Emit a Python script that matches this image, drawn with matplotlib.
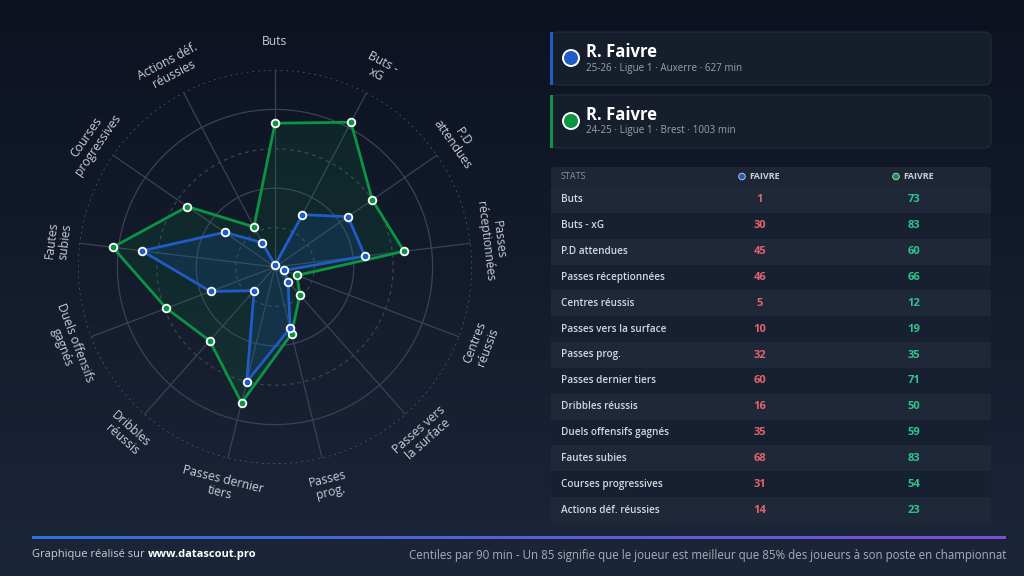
import numpy as np
import matplotlib
matplotlib.use("Agg")
import matplotlib.pyplot as plt
from matplotlib.patches import FancyBboxPatch, Circle, Rectangle
from matplotlib.colors import LinearSegmentedColormap

plt.rcParams['font.family'] = ['Open Sans', 'DejaVu Sans']

categories = ["Buts", "Buts - xG", "P.D attendues", "Passes réceptionnées",
              "Centres réussis", "Passes vers la surface", "Passes prog.",
              "Passes dernier tiers", "Dribbles réussis", "Duels offensifs gagnés",
              "Fautes subies", "Courses progressives", "Actions déf. réussies"]
radar_labels = ["Buts", "Buts -\nxG", "P.D\nattendues", "Passes\nréceptionnées",
                "Centres\nréussis", "Passes vers\nla surface", "Passes\nprog.",
                "Passes dernier\ntiers", "Dribbles\nréussis", "Duels offensifs\ngagnés",
                "Fautes\nsubies", "Courses\nprogressives", "Actions déf.\nréussies"]
blue_vals = [1, 30, 45, 46, 5, 10, 32, 60, 16, 35, 68, 31, 14]
green_vals = [73, 83, 60, 66, 12, 19, 35, 71, 50, 59, 83, 54, 23]

players = [("R. Faivre", "25-26 · Ligue 1 · Auxerre · 627 min"),
           ("R. Faivre", "24-25 · Ligue 1 · Brest · 1003 min")]
col_names = ["FAIVRE", "FAIVRE"]

BLUE = "#1f5cc6"
GREEN = "#0a9443"
RED_TXT = "#e5636d"
GREEN_TXT = "#2fc48e"
GRID = "#3a4355"

fig = plt.figure(figsize=(10.24, 5.76), dpi=100)

# fond en dégradé
bg = fig.add_axes([0, 0, 1, 1])
grad = np.linspace(0, 1, 256).reshape(-1, 1)
bgcmap = LinearSegmentedColormap.from_list("bg", ["#0c1220", "#1c2639"])
bg.imshow(grad, aspect='auto', cmap=bgcmap, extent=[0, 1, 0, 1], origin='upper')
bg.axis('off')

# radar
R = 197
cx, cy = 275, 267
ax = fig.add_axes([(cx - R) / 1024, (576 - cy - R) / 576, 2 * R / 1024, 2 * R / 576],
                  projection='polar')
ax.patch.set_alpha(0)
ax.set_theta_zero_location('N')
ax.set_theta_direction(-1)
ax.set_ylim(0, 100)
ax.set_xticks([])
ax.set_yticks([])
ax.grid(False)
ax.spines['polar'].set_visible(False)

n = len(categories)
theta = np.arange(n) * 2 * np.pi / n
circ = np.linspace(0, 2 * np.pi, 300)
for r, ls, col in [(20, (0, (3, 3)), GRID), (40, '-', GRID), (60, (0, (3, 3)), GRID),
                   (80, '-', GRID), (100, (0, (1.5, 3)), "#5b6476")]:
    ax.plot(circ, np.full_like(circ, r), color=col, lw=0.9, ls=ls, zorder=1)
for th in theta:
    ax.plot([th, th], [0, 100], color=GRID, lw=0.9, zorder=1)

for vals, col, fa in [(green_vals, GREEN, 0.13), (blue_vals, BLUE, 0.16)]:
    t = np.append(theta, theta[0])
    v = np.append(vals, vals[0])
    ax.fill(t, v, color=col, alpha=fa, zorder=2)
    ax.plot(t, v, color=col, lw=2, zorder=3)
    ax.plot(theta, vals, 'o', ms=5.5, mfc=col, mec='white', mew=1.3, zorder=4)

for th, lab in zip(theta, radar_labels):
    deg = np.degrees(th)
    rot = -deg if (deg <= 90 or deg >= 270) else 180 - deg
    lr = 110.5 + 4 * abs(np.cos(th))
    ax.text(th, lr, lab, rotation=rot, ha='center', va='center', rotation_mode='anchor',
            color="#c9cdd6", fontsize=8.7, linespacing=1.05, clip_on=False)

# panneau de droite
ov = fig.add_axes([0, 0, 1, 1])
ov.patch.set_alpha(0)
ov.set_xlim(0, 1024)
ov.set_ylim(576, 0)
ov.axis('off')

for i, ((name, sub), col) in enumerate(zip(players, [BLUE, GREEN])):
    y0 = 32 + i * 63
    ov.add_patch(FancyBboxPatch((551, y0), 440, 53, boxstyle="round,pad=0,rounding_size=7",
                                fc="#161d2b", ec="#252d3c", lw=0.8))
    ov.add_patch(Rectangle((550, y0), 3, 53, fc=col, ec='none'))
    ov.add_patch(Circle((571, y0 + 26), 8, fc=col, ec='white', lw=1.4))
    ov.text(586, y0 + 20, name, color='white', fontsize=12, fontweight='bold', va='center')
    ov.text(586, y0 + 36, sub, color="#9aa1ad", fontsize=7.1, va='center')

# tableau
tx0, tx1 = 551, 991
ov.add_patch(FancyBboxPatch((tx0, 167), tx1 - tx0, 20, boxstyle="round,pad=0,rounding_size=4",
                            fc="#1e2636", ec='none'))
ov.text(561, 176.5, "STATS", color="#8a919d", fontsize=6.5, va='center')
for x, cname, col in [(760, col_names[0], BLUE), (914, col_names[1], GREEN)]:
    ov.add_patch(Circle((x - 18, 176.5), 3.3, fc=col, ec='#cfd3da', lw=0.6))
    ov.text(x - 11, 176.5, cname, color="#c9ced6", fontsize=6.5, fontweight='bold',
            va='center')

row_h = (523 - 187) / n
for i, cat in enumerate(categories):
    y = 187 + i * row_h
    ov.add_patch(Rectangle((tx0, y), tx1 - tx0, row_h,
                           fc="#1f2839" if i % 2 == 0 else "#172031", ec='none'))
    ov.text(561, y + row_h / 2, cat, color="#d3d7de", fontsize=7.2, fontweight='semibold',
            va='center')
    ov.text(760, y + row_h / 2, str(blue_vals[i]), color=RED_TXT, fontsize=8,
            fontweight='bold', ha='center', va='center')
    ov.text(914, y + row_h / 2, str(green_vals[i]), color=GREEN_TXT, fontsize=8,
            fontweight='bold', ha='center', va='center')

# pied de page
fcmap = LinearSegmentedColormap.from_list("ft", ["#2f6fe0", "#7b4fd3"])
ov.imshow(np.linspace(0, 1, 256).reshape(1, -1), cmap=fcmap, aspect='auto',
          extent=[32, 1006, 539, 536.5])
ov.set_xlim(0, 1024)
ov.set_ylim(576, 0)
t1 = ov.text(32, 555, "Graphique réalisé sur ", color="#c9cdd6", fontsize=8, va='center')
ov.annotate("www.datascout.pro", xycoords=t1, xy=(1, 0.5), va='center', color="white",
            fontsize=8, fontweight='bold')
ov.text(1006, 555, "Centiles par 90 min - Un 85 signifie que le joueur est meilleur que 85% "
        "des joueurs à son poste en championnat", color="#a8aeb9", fontsize=8.3,
        ha='right', va='center')

fig.savefig("out.png", dpi=100)
